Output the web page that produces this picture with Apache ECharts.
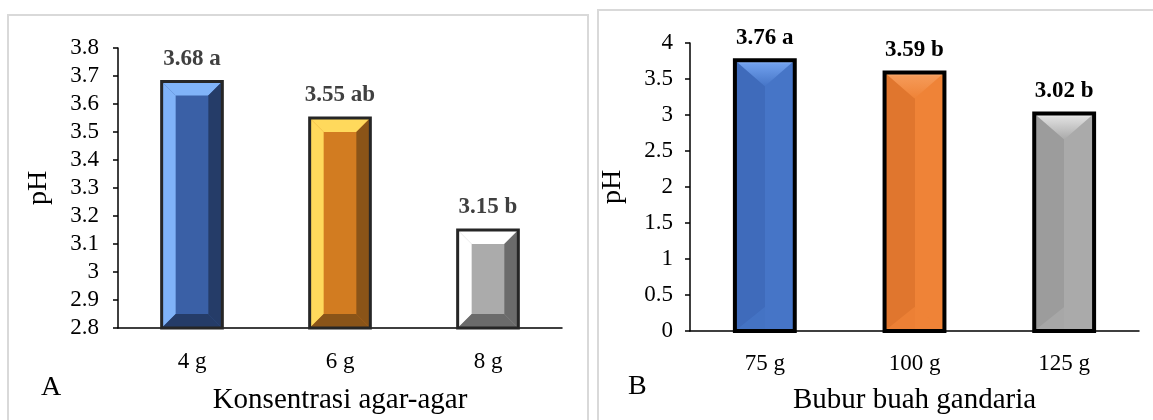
<!DOCTYPE html>
<html>
<head>
<meta charset="utf-8">
<script src="https://cdn.jsdelivr.net/npm/echarts@6/dist/echarts.min.js"></script>
<style>
  html, body { margin: 0; padding: 0; background: #fff; }
  #chart { width: 1153px; height: 420px; }
</style>
</head>
<body>
<div id="chart"></div>
<script>
// Panel A: pH by agar-agar concentration
const agarCategories = ['4 g', '6 g', '8 g'];
const agarValues = [3.68, 3.55, 3.15];
const agarLetters = ['a', 'ab', 'b'];
const agarAxisMin = 2.8;
const agarAxisMax = 3.8;
const agarAxisStep = 0.1;

// Panel B: pH by gandaria fruit pulp amount
const pulpCategories = ['75 g', '100 g', '125 g'];
const pulpValues = [3.76, 3.59, 3.02];
const pulpLetters = ['a', 'b', 'b'];
const pulpAxisMin = 0;
const pulpAxisMax = 4;
const pulpAxisStep = 0.5;

const SERIF = '"Times New Roman", "Liberation Serif", serif';

// Bevelled bar palettes: [light (top/left), face, shade (right/bottom)]
const bevelPalettes = [
  ['#80b3f8', '#3a60a6', '#253c68'],
  ['#ffd95c', '#d27c21', '#8a5418'],
  ['#ffffff', '#ababab', '#6b6b6b']
];

// Glossy bar palettes: [left shade, face, top highlight, top glow]
const glossPalettes = [
  ['#3f6bbb', '#4675c7', '#6f9fec', '#9cc0fb'],
  ['#e0762e', '#ef8337', '#f59a58', '#ffbc85'],
  ['#9c9c9c', '#aaaaaa', '#dedede', '#fbfbfb']
];

function bevelBar(params, api) {
  const i = api.value(0);
  const v = api.value(1);
  const topPt = api.coord([i, v]);
  const basePt = api.coord([i, agarAxisMin]);
  const w = api.size([1, 0])[0] * 0.41;
  const x0 = topPt[0] - w / 2, x1 = topPt[0] + w / 2;
  const y0 = topPt[1], y1 = basePt[1];
  const b = Math.min(14, (y1 - y0) / 3);
  const p = bevelPalettes[params.dataIndex];
  const label = agarValues[params.dataIndex].toFixed(2) + ' ' + agarLetters[params.dataIndex];
  return {
    type: 'group',
    children: [
      { type: 'rect', shape: { x: x0, y: y0, width: w, height: y1 - y0 }, style: { fill: p[1] } },
      { type: 'polygon', shape: { points: [[x0, y0], [x1, y0], [x1 - b, y0 + b], [x0 + b, y0 + b]] }, style: { fill: p[0] } },
      { type: 'polygon', shape: { points: [[x0, y0], [x0 + b, y0 + b], [x0 + b, y1 - b], [x0, y1]] }, style: { fill: p[0] } },
      { type: 'polygon', shape: { points: [[x1, y0], [x1, y1], [x1 - b, y1 - b], [x1 - b, y0 + b]] }, style: { fill: p[2] } },
      { type: 'polygon', shape: { points: [[x0, y1], [x1, y1], [x1 - b, y1 - b], [x0 + b, y1 - b]] }, style: { fill: p[2] } },
      { type: 'rect', shape: { x: x0, y: y0, width: w, height: y1 - y0 }, style: { fill: 'none', stroke: '#262626', lineWidth: 3 } },
      { type: 'text', x: topPt[0], y: y0 - 11,
        style: { text: label, fill: '#404040', font: 'bold 23px ' + SERIF, align: 'center', verticalAlign: 'bottom' } }
    ]
  };
}

function glossBar(params, api) {
  const i = api.value(0);
  const v = api.value(1);
  const topPt = api.coord([i, v]);
  const basePt = api.coord([i, pulpAxisMin]);
  const w = api.size([1, 0])[0] * 0.4;
  const x0 = topPt[0] - w / 2, x1 = topPt[0] + w / 2, xc = topPt[0];
  const y0 = topPt[1], y1 = basePt[1];
  const p = glossPalettes[params.dataIndex];
  const G = echarts.graphic.LinearGradient;
  const label = pulpValues[params.dataIndex].toFixed(2) + ' ' + pulpLetters[params.dataIndex];
  return {
    type: 'group',
    children: [
      { type: 'rect', shape: { x: x0, y: y0, width: w, height: y1 - y0 },
        style: { fill: new G(0, 0, 1, 0, [
          { offset: 0, color: p[0] }, { offset: 0.5, color: p[0] },
          { offset: 0.5, color: p[1] }, { offset: 1, color: p[1] }
        ]) } },
      { type: 'polygon', shape: { points: [[x0, y0], [x1, y0], [xc, y0 + 26]] },
        style: { fill: new G(0, 0, 0, 1, [
          { offset: 0, color: p[3] }, { offset: 0.15, color: p[2] }, { offset: 1, color: p[1] }
        ]) } },
      { type: 'polygon', shape: { points: [[x0, y1], [x1, y1], [xc, y1 - 24]] },
        style: { fill: p[1], opacity: 0.8 } },
      { type: 'rect', shape: { x: x0, y: y0, width: w, height: y1 - y0 }, style: { fill: 'none', stroke: '#000', lineWidth: 4 } },
      { type: 'text', x: xc, y: y0 - 11,
        style: { text: label, fill: '#000', font: 'bold 23px ' + SERIF, align: 'center', verticalAlign: 'bottom' } }
    ]
  };
}

const axisText = { color: '#000', fontFamily: SERIF };

const chart = echarts.init(document.getElementById('chart'), null, { renderer: 'canvas' });
chart.setOption({
  animation: false,
  backgroundColor: '#fff',
  grid: [
    { left: 118, top: 48, width: 444, height: 280 },
    { left: 690, top: 43, width: 449, height: 288 }
  ],
  xAxis: [
    { gridIndex: 0, type: 'category', data: agarCategories,
      axisLine: { lineStyle: { color: '#000', width: 1.5 } }, axisTick: { show: false },
      axisLabel: Object.assign({ fontSize: 23, margin: 22 }, axisText),
      name: 'Konsentrasi agar-agar', nameLocation: 'middle', nameGap: 58,
      nameTextStyle: Object.assign({ fontSize: 29 }, axisText) },
    { gridIndex: 1, type: 'category', data: pulpCategories,
      axisLine: { lineStyle: { color: '#000', width: 1.5 } }, axisTick: { show: false },
      axisLabel: Object.assign({ fontSize: 23, margin: 21 }, axisText),
      name: 'Bubur buah gandaria', nameLocation: 'middle', nameGap: 55,
      nameTextStyle: Object.assign({ fontSize: 29 }, axisText) }
  ],
  yAxis: [
    { gridIndex: 0, type: 'value', min: agarAxisMin, max: agarAxisMax, interval: agarAxisStep,
      splitLine: { show: false },
      axisLine: { show: true, lineStyle: { color: '#000', width: 1.5 } },
      axisTick: { show: true, length: 5, lineStyle: { color: '#000', width: 1.5 } },
      axisLabel: Object.assign({ fontSize: 23, margin: 19 }, axisText),
      name: 'pH', nameLocation: 'middle', nameGap: 65,
      nameTextStyle: Object.assign({ fontSize: 28 }, axisText) },
    { gridIndex: 1, type: 'value', min: pulpAxisMin, max: pulpAxisMax, interval: pulpAxisStep,
      splitLine: { show: false },
      axisLine: { show: true, lineStyle: { color: '#000', width: 1.5 } },
      axisTick: { show: true, length: 5, lineStyle: { color: '#000', width: 1.5 } },
      axisLabel: Object.assign({ fontSize: 23, margin: 17 }, axisText),
      name: 'pH', nameLocation: 'middle', nameGap: 63,
      nameTextStyle: Object.assign({ fontSize: 28 }, axisText) }
  ],
  series: [
    { type: 'custom', xAxisIndex: 0, yAxisIndex: 0, renderItem: bevelBar,
      data: agarValues.map((v, i) => [i, v]), clip: false },
    { type: 'custom', xAxisIndex: 1, yAxisIndex: 1, renderItem: glossBar,
      data: pulpValues.map((v, i) => [i, v]), clip: false }
  ],
  graphic: [
    // panel frames
    { type: 'rect', silent: true, shape: { x: 8, y: 15, width: 580, height: 420 },
      style: { fill: 'none', stroke: '#d9d9d9', lineWidth: 2 } },
    { type: 'rect', silent: true, shape: { x: 598, y: 10, width: 580, height: 420 },
      style: { fill: 'none', stroke: '#d9d9d9', lineWidth: 2 } },
    // panel letters
    { type: 'text', left: 41, top: 374, style: { text: 'A', fill: '#000', font: '28px ' + SERIF } },
    { type: 'text', left: 628, top: 373, style: { text: 'B', fill: '#000', font: '28px ' + SERIF } }
  ]
});
</script>
</body>
</html>
